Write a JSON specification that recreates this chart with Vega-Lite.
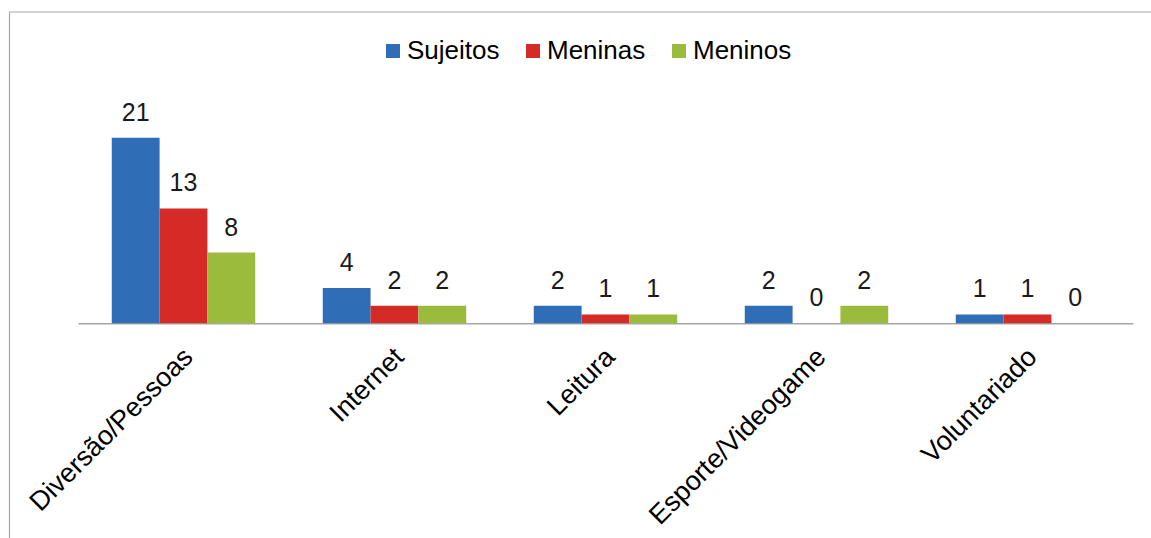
{
  "$schema": "https://vega.github.io/schema/vega-lite/v6.json",
  "autosize": "none",
  "padding": {"left": 9, "top": 12, "right": 0, "bottom": 0},
  "width": 1142,
  "height": 526,
  "background": "white",
  "config": {
    "view": {"stroke": null},
    "font": "Liberation Sans"
  },
  "data": {
    "values": [
      {"atividade": "Diversão/Pessoas", "grupo": "Sujeitos", "n": 21},
      {"atividade": "Diversão/Pessoas", "grupo": "Meninas", "n": 13},
      {"atividade": "Diversão/Pessoas", "grupo": "Meninos", "n": 8},
      {"atividade": "Internet", "grupo": "Sujeitos", "n": 4},
      {"atividade": "Internet", "grupo": "Meninas", "n": 2},
      {"atividade": "Internet", "grupo": "Meninos", "n": 2},
      {"atividade": "Leitura", "grupo": "Sujeitos", "n": 2},
      {"atividade": "Leitura", "grupo": "Meninas", "n": 1},
      {"atividade": "Leitura", "grupo": "Meninos", "n": 1},
      {"atividade": "Esporte/Videogame", "grupo": "Sujeitos", "n": 2},
      {"atividade": "Esporte/Videogame", "grupo": "Meninas", "n": 0},
      {"atividade": "Esporte/Videogame", "grupo": "Meninos", "n": 2},
      {"atividade": "Voluntariado", "grupo": "Sujeitos", "n": 1},
      {"atividade": "Voluntariado", "grupo": "Meninas", "n": 1},
      {"atividade": "Voluntariado", "grupo": "Meninos", "n": 0}
    ]
  },
  "encoding": {
    "y": {
      "field": "n",
      "type": "quantitative",
      "scale": {"domain": [-24.29, 35.22], "nice": false, "zero": false},
      "axis": {
        "title": null,
        "labels": false,
        "ticks": false,
        "grid": false,
        "domain": true,
        "domainColor": "#a6a6a6",
        "domainWidth": 1.2
      }
    }
  },
  "layer": [
    {
      "data": {"values": [{"topo": 35.22}]},
      "mark": {"type": "rule", "color": "#a6a6a6", "strokeWidth": 1.2},
      "encoding": {"y": {"field": "topo", "type": "quantitative"}}
    },
    {
      "mark": {"type": "bar", "opacity": 1},
      "encoding": {
        "x": {
          "field": "atividade",
          "type": "nominal",
          "sort": null,
          "scale": {"range": [69, 1124], "paddingInner": 0.32, "paddingOuter": 0.16},
          "axis": {
            "title": null,
            "offset": -214.7,
            "ticks": false,
            "domainColor": "#a6a6a6",
            "domainWidth": 1.5,
            "labelAngle": -45,
            "labelAlign": "right",
            "labelBaseline": "top",
            "labelPadding": 20,
            "labelOffset": -4,
            "labelLimit": 0,
            "labelFontSize": 27,
            "labelColor": "#000000",
            "labelFont": "Liberation Sans"
          }
        },
        "xOffset": {
          "field": "grupo",
          "type": "nominal",
          "sort": ["Sujeitos", "Meninas", "Meninos"],
          "scale": {"paddingInner": 0, "paddingOuter": 0}
        },
        "y2": {"datum": 0},
        "color": {
          "field": "grupo",
          "type": "nominal",
          "sort": ["Sujeitos", "Meninas", "Meninos"],
          "scale": {
            "domain": ["Sujeitos", "Meninas", "Meninos"],
            "range": ["#2f6db6", "#d42b26", "#9bbb3d"]
          },
          "legend": {
            "title": null,
            "orient": "none",
            "direction": "horizontal",
            "legendX": 371,
            "legendY": 26,
            "padding": 0,
            "symbolType": "square",
            "symbolSize": 196,
            "symbolOpacity": 1,
            "symbolStrokeWidth": 0,
            "labelFontSize": 26,
            "labelColor": "#000000",
            "labelFont": "Liberation Sans",
            "labelOffset": 1,
            "columnPadding": 20
          }
        }
      }
    },
    {
      "mark": {
        "type": "text",
        "baseline": "alphabetic",
        "align": "center",
        "dy": -17,
        "fontSize": 25,
        "color": "#1a1a1a"
      },
      "encoding": {
        "x": {"field": "atividade", "type": "nominal", "sort": null},
        "xOffset": {
          "field": "grupo",
          "type": "nominal",
          "sort": ["Sujeitos", "Meninas", "Meninos"]
        },
        "text": {"field": "n", "type": "quantitative"}
      }
    }
  ]
}
